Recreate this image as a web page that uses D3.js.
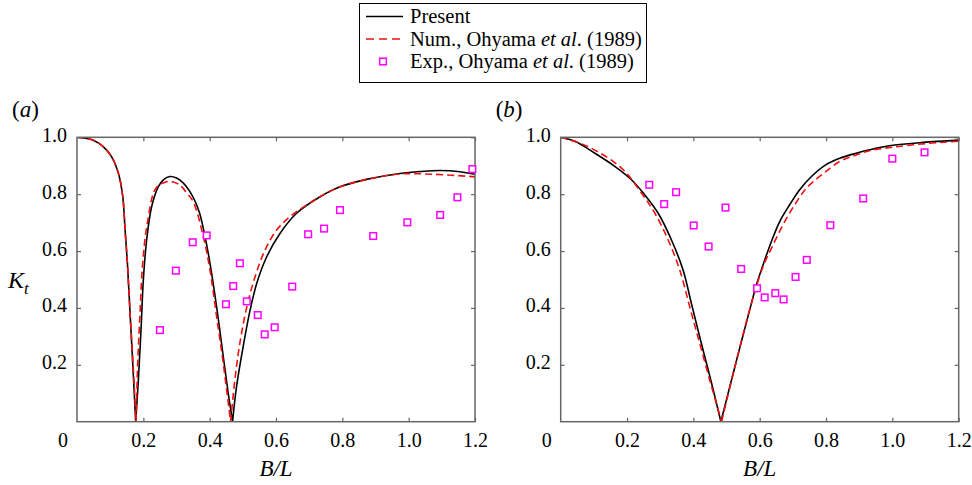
<!DOCTYPE html>
<html>
<head>
<meta charset="utf-8">
<title>Transmission coefficient Kt vs B/L</title>
<script src="https://d3js.org/d3.v7.min.js"></script>
<style>
  body { margin: 0; background: #fff; }
  svg { display: block; font-family: "Liberation Serif", "Times New Roman", serif; }
</style>
</head>
<body>
<div id="chart"></div>
<script>
// tick values
const xTicks = [0.2, 0.4, 0.6, 0.8, 1.0, 1.2];
const yTicks = [0.2, 0.4, 0.6, 0.8, 1.0];

// panel (a): [B/L, Kt]
const presentA = [[0,1.0],[0.049,0.99],[0.079,0.967],[0.104,0.932],[0.125,0.873],[0.138,0.791],[0.145,0.674],[0.152,0.557],[0.160,0.381],[0.168,0.205],[0.177,0],
  [0.185,0.147],[0.193,0.323],[0.200,0.498],[0.210,0.639],[0.225,0.756],[0.245,0.826],[0.262,0.852],[0.280,0.862],[0.300,0.857],[0.320,0.840],[0.340,0.810],[0.356,0.775],[0.370,0.732],[0.383,0.668],[0.401,0.557],[0.421,0.404],[0.441,0.229],[0.456,0.1],[0.469,0],
  [0.481,0.123],[0.501,0.264],[0.522,0.393],[0.542,0.487],[0.572,0.580],[0.612,0.662],[0.662,0.733],[0.733,0.791],[0.793,0.826],[0.873,0.852],[0.974,0.873],[1.04,0.880],[1.094,0.883],[1.155,0.879],[1.2,0.870]];
const numA = [[0,1.0],[0.049,0.99],[0.079,0.967],[0.104,0.932],[0.125,0.873],[0.138,0.791],[0.145,0.674],[0.152,0.557],[0.160,0.381],[0.169,0.205],[0.178,0],
  [0.183,0.205],[0.190,0.381],[0.198,0.557],[0.212,0.698],[0.238,0.821],[0.270,0.844],[0.290,0.843],[0.310,0.832],[0.330,0.806],[0.351,0.772],[0.381,0.650],[0.401,0.533],[0.421,0.369],[0.441,0.205],[0.463,0],
  [0.476,0.147],[0.491,0.276],[0.512,0.404],[0.537,0.510],[0.567,0.604],[0.602,0.674],[0.642,0.721],[0.692,0.762],[0.733,0.791],[0.793,0.826],[0.873,0.852],[0.974,0.871],[1.074,0.870],[1.2,0.861]];
const expA = [[0.250,0.322],[0.298,0.531],[0.349,0.631],[0.391,0.655],[0.449,0.413],[0.471,0.477],[0.491,0.557],[0.512,0.423],[0.545,0.375],[0.566,0.307],[0.596,0.332],[0.649,0.475],[0.697,0.659],[0.745,0.679],[0.793,0.744],[0.893,0.653],[0.996,0.701],[1.095,0.727],[1.147,0.789],[1.192,0.888]];

// panel (b)
const presentB = [[0,1.0],[0.043,0.986],[0.103,0.944],[0.164,0.897],[0.214,0.850],[0.254,0.797],[0.294,0.733],[0.334,0.639],[0.369,0.533],[0.394,0.416],[0.424,0.276],[0.455,0.135],[0.483,0],
  [0.53,0.215],[0.575,0.416],[0.590,0.481],[0.610,0.551],[0.635,0.633],[0.660,0.703],[0.690,0.762],[0.720,0.815],[0.756,0.862],[0.799,0.903],[0.841,0.926],[0.891,0.944],[0.931,0.956],[0.991,0.970],[1.092,0.982],[1.2,0.99]];
const numB = [[0,1.0],[0.083,0.967],[0.184,0.891],[0.244,0.803],[0.284,0.733],[0.324,0.639],[0.359,0.533],[0.389,0.404],[0.419,0.276],[0.455,0.123],[0.485,0],
  [0.53,0.215],[0.575,0.416],[0.610,0.545],[0.640,0.621],[0.670,0.692],[0.705,0.762],[0.741,0.821],[0.790,0.871],[0.841,0.915],[0.891,0.938],[0.931,0.953],[1.0,0.965],[1.1,0.978],[1.2,0.986]];
const expB = [[0.267,0.833],[0.312,0.765],[0.348,0.807],[0.401,0.690],[0.446,0.616],[0.497,0.753],[0.544,0.537],[0.592,0.469],[0.615,0.437],[0.647,0.452],[0.672,0.430],[0.708,0.509],[0.742,0.569],[0.813,0.691],[0.912,0.785],[1.000,0.925],[1.097,0.947]];

const width = 972, height = 485;
const plotW = 398, plotTop = 137.3, plotBottom = 421.7;
const spineColor = "#666";
const redColor = "#f01010";
const magenta = "#ff00ff";

const svg = d3.select("#chart").append("svg")
  .attr("width", width)
  .attr("height", height);

const panels = [
  { id: "a", left: 77, present: presentA, num: numA, exp: expA },
  { id: "b", left: 560.7, present: presentB, num: numB, exp: expB }
];

const fmt = d3.format(".1f");

// split a curve at its zero points so the cusps stay sharp
function splitAtZeros(pts) {
  const segs = [];
  let cur = [];
  pts.forEach(pt => {
    cur.push(pt);
    if (pt[1] === 0) {
      segs.push(cur);
      cur = [pt];
    }
  });
  if (cur.length > 1) segs.push(cur);
  return segs;
}

panels.forEach(p => {
  const x = d3.scaleLinear().domain([0, 1.2]).range([p.left, p.left + plotW]);
  const y = d3.scaleLinear().domain([0, 1]).range([plotBottom, plotTop]);

  svg.append("clipPath").attr("id", "clip-" + p.id)
    .append("rect")
    .attr("x", p.left).attr("y", plotTop)
    .attr("width", plotW).attr("height", plotBottom - plotTop);

  const line = d3.line()
    .x(d => x(d[0]))
    .y(d => y(d[1]))
    .curve(d3.curveCatmullRom.alpha(0.5));

  const pathOf = pts => splitAtZeros(pts).map(s => line(s)).join("");

  const g = svg.append("g").attr("clip-path", `url(#clip-${p.id})`);

  g.append("path")
    .attr("d", pathOf(p.present))
    .attr("fill", "none")
    .attr("stroke", "#000")
    .attr("stroke-width", 1.6);

  g.append("path")
    .attr("d", pathOf(p.num))
    .attr("fill", "none")
    .attr("stroke", redColor)
    .attr("stroke-width", 1.6)
    .attr("stroke-dasharray", "7,4");

  // axes, ticks point inward
  const axB = svg.append("g").attr("transform", `translate(0,${plotBottom})`)
    .call(d3.axisBottom(x).tickValues(xTicks).tickSize(-4).tickPadding(11).tickFormat(fmt));
  const axL = svg.append("g").attr("transform", `translate(${p.left},0)`)
    .call(d3.axisLeft(y).tickValues(yTicks).tickSize(-4).tickPadding(10).tickFormat(fmt));
  svg.append("g").attr("transform", `translate(0,${plotTop})`)
    .call(d3.axisTop(x).tickValues(xTicks).tickSize(-4).tickFormat(""));
  svg.append("g").attr("transform", `translate(${p.left + plotW},0)`)
    .call(d3.axisRight(y).tickValues(yTicks).tickSize(-4).tickFormat(""));

  svg.selectAll(".domain").remove();
  svg.selectAll(".tick line").attr("stroke", spineColor).attr("stroke-width", 1.2);
  [axB, axL].forEach(a => a.selectAll("text")
    .attr("font-family", "Liberation Serif")
    .attr("font-size", 20)
    .attr("fill", "#000"));
  axL.selectAll("text").attr("dy", "0.2em");

  // origin label sits left of the spine
  svg.append("text")
    .attr("x", x(0) - 14)
    .attr("y", plotBottom + 25.5)
    .attr("text-anchor", "middle")
    .attr("font-size", 20)
    .text("0");

  svg.append("rect")
    .attr("x", p.left).attr("y", plotTop)
    .attr("width", plotW).attr("height", plotBottom - plotTop)
    .attr("fill", "none")
    .attr("stroke", spineColor)
    .attr("stroke-width", 1.5);

  svg.append("g").selectAll("rect")
    .data(p.exp)
    .join("rect")
    .attr("x", d => x(d[0]) - 3.3)
    .attr("y", d => y(d[1]) - 3.3)
    .attr("width", 6.6).attr("height", 6.6)
    .attr("fill", "#fff")
    .attr("stroke", magenta)
    .attr("stroke-width", 1.5);

  // x label B/L
  svg.append("text")
    .attr("x", (x(0) + x(1.2)) / 2)
    .attr("y", 476)
    .attr("text-anchor", "middle")
    .attr("font-size", 23)
    .attr("font-style", "italic")
    .text("B/L");

  // panel letter
  const lab = svg.append("text")
    .attr("x", p.left - 65)
    .attr("y", 117)
    .attr("font-size", 23);
  lab.append("tspan").text("(");
  lab.append("tspan").attr("font-style", "italic").text(p.id);
  lab.append("tspan").text(")");
});

// y label
const kt = svg.append("text").attr("x", 8).attr("y", 288).attr("font-size", 24);
kt.append("tspan").attr("font-style", "italic").text("K");
kt.append("tspan").attr("font-style", "italic").attr("font-size", 17).attr("dy", 6).text("t");

// legend
const lg = svg.append("g");
lg.append("rect")
  .attr("x", 359.5).attr("y", 3.5)
  .attr("width", 287).attr("height", 79)
  .attr("fill", "#fff")
  .attr("stroke", "#000")
  .attr("stroke-width", 1);

const rows = [16.5, 39, 61.5];
lg.append("line").attr("x1", 366).attr("x2", 403).attr("y1", rows[0]).attr("y2", rows[0])
  .attr("stroke", "#000").attr("stroke-width", 1.6);
lg.append("line").attr("x1", 366).attr("x2", 403).attr("y1", rows[1]).attr("y2", rows[1])
  .attr("stroke", redColor).attr("stroke-width", 1.6).attr("stroke-dasharray", "8,5");
lg.append("rect").attr("x", 383 - 3.3).attr("y", rows[2] - 3.3).attr("width", 6.6).attr("height", 6.6)
  .attr("fill", "#fff").attr("stroke", magenta).attr("stroke-width", 1.5);

const legendText = [
  [["Present", false]],
  [["Num., Ohyama ", false], ["et al", true], [". (1989)", false]],
  [["Exp., Ohyama ", false], ["et al", true], [". (1989)", false]]
];
legendText.forEach((parts, i) => {
  const t = lg.append("text").attr("x", 410).attr("y", rows[i] + 6.5).attr("font-size", 20.5);
  parts.forEach(([s, it]) => t.append("tspan").attr("font-style", it ? "italic" : null).text(s));
});
</script>
</body>
</html>
